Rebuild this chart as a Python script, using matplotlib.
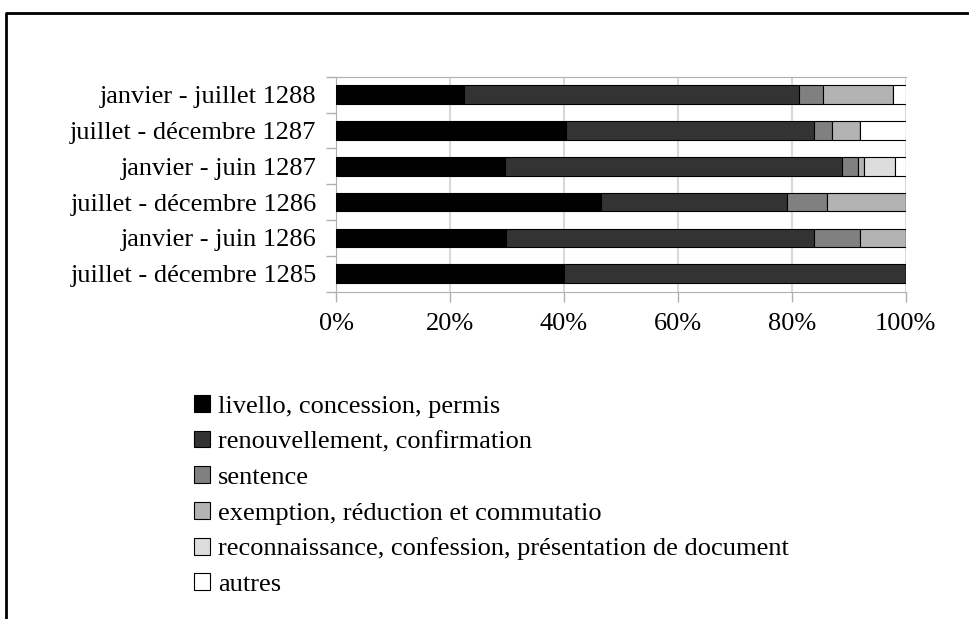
import matplotlib.pyplot as plt
import numpy as np
from matplotlib.lines import Line2D

plt.rcParams['font.family'] = ['Liberation Serif', 'DejaVu Serif']

periods = ["juillet - décembre 1285", "janvier - juin 1286", "juillet - décembre 1286",
           "janvier - juin 1287", "juillet - décembre 1287", "janvier - juillet 1288"]
categories = ["livello, concession, permis", "renouvellement, confirmation", "sentence",
              "exemption, réduction et commutatio",
              "reconnaissance, confession, présentation de document", "autres"]

# shares in %, one list per category, same order as periods
livello = [40.0, 29.8, 46.6, 29.7, 40.4, 22.4]
renouvellement = [60.0, 54.1, 32.5, 59.2, 43.5, 58.8]
sentence = [0.0, 8.0, 7.0, 2.7, 3.1, 4.3]
exemption = [0.0, 8.1, 13.9, 1.0, 4.9, 12.2]
reconnaissance = [0.0, 0.0, 0.0, 5.5, 0.0, 0.0]
autres = [0.0, 0.0, 0.0, 1.9, 8.1, 2.3]

series = [livello, renouvellement, sentence, exemption, reconnaissance, autres]
colors = ["#000000", "#333333", "#808080", "#b3b3b3", "#dddddd", "#ffffff"]

fig = plt.figure(figsize=(9.69, 6.19), dpi=100)
ax = fig.add_axes([336/969, 1-291.7/619, 569.7/969, 215/619])

y = np.arange(len(periods))
left = np.zeros(len(periods))
handles = []
for vals, col, lab in zip(series, colors, categories):
    vals = np.array(vals)
    b = ax.barh(y, vals, left=left, height=0.52, color=col, edgecolor="black",
                linewidth=0.8, label=lab, zorder=3)
    handles.append(b)
    left += vals

ax.set_xlim(0, 100)
ax.set_ylim(-0.5, len(periods) - 0.5)
ax.set_xticks([0, 20, 40, 60, 80, 100])
ax.set_xticklabels(["0%", "20%", "40%", "60%", "80%", "100%"])
ax.set_yticks(y)
ax.set_yticklabels(periods)
ax.set_yticks(np.arange(-0.5, len(periods)), minor=True)
ax.tick_params(axis="y", which="major", length=0, pad=14, labelsize=19)
ax.tick_params(axis="y", which="minor", length=7, color="#b0b0b0", width=1)
ax.tick_params(axis="x", length=7, color="#b0b0b0", width=1, pad=8, labelsize=19)
ax.grid(axis="x", color="#d9d9d9", linewidth=1.5, zorder=0)
for s in ["left", "bottom", "top"]:
    ax.spines[s].set_color("#b0b0b0")
ax.spines["right"].set_visible(False)

fig.legend(handles=handles, loc="upper left", bbox_to_anchor=(194/969, 1-395/619),
           frameon=False, fontsize=19, handlelength=0.6, handleheight=0.6,
           handletextpad=0.3, labelspacing=0.49, borderpad=0, borderaxespad=0)

# outer frame (only top and left edge visible)
fig.add_artist(Line2D([6/969, 6/969, 1.0], [0.0, 1-13/619, 1-13/619],
                      transform=fig.transFigure, color="black", linewidth=2))

fig.savefig("out.png", dpi=100)
